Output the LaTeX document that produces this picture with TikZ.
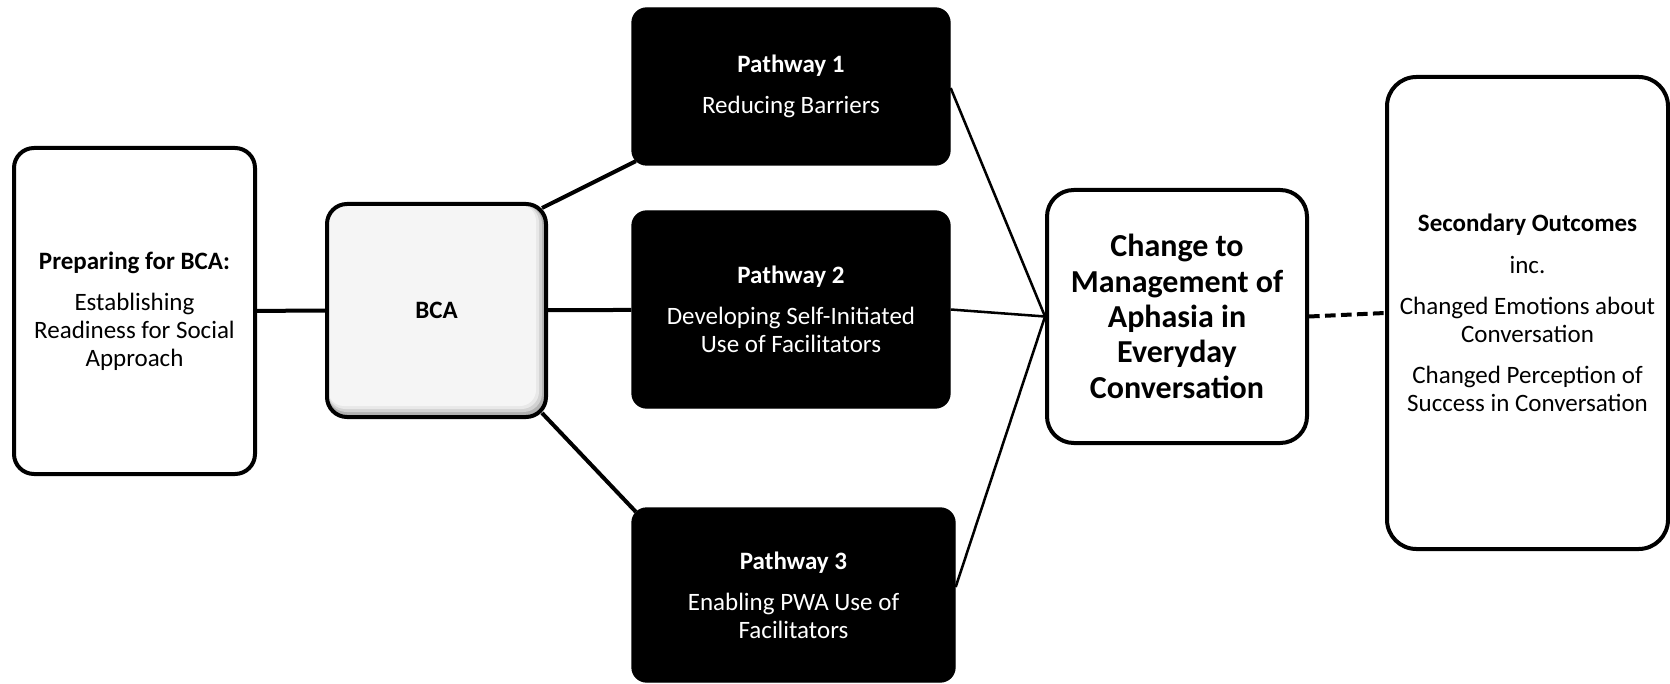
\documentclass[tikz,border=0pt]{standalone}
\usepackage{fontspec}
\setmainfont{Carlito}
\usetikzlibrary{calc}
\begin{document}
\begin{tikzpicture}[x=0.75pt,y=-0.75pt,
  txt/.style={font=\fontsize{18.75}{21}\selectfont, align=center, inner sep=0pt},
  whitebox/.style={txt, draw=black, line width=3pt, fill=white, rounded corners=15pt},
  graybox/.style={txt, draw=black, line width=3pt, rounded corners=15pt},
  pathbox/.style={txt, draw=black, line width=1pt, fill=black, text=white, rounded corners=11pt},
  heavylink/.style={line width=3pt},
  lightlink/.style={line width=1.9pt},
  dashlink/.style={line width=3pt, dash pattern=on 8pt off 4pt}]
\useasboundingbox (0,0) rectangle (1670,684);

% left box
\node[whitebox, minimum width=180.75pt, minimum height=244.5pt] (prep) at (134.5,311)
  {\textbf{Preparing for BCA:}\\[10pt]Establishing\\Readiness for Social\\Approach};

% BCA box with a soft inner shadow along its right and bottom sides
\fill[gray!60, rounded corners=15pt] (327,204) rectangle (546,417);
\fill[gray!35, rounded corners=14pt] (328,205) rectangle (542,412);
\fill[gray!18, rounded corners=13pt] (328,205) rectangle (539,409);
\fill[gray!8,  rounded corners=12pt] (328,205) rectangle (536,406);
\node[graybox, minimum width=164.25pt, minimum height=159.75pt] (bca) at (436.5,310.5)
  {\textbf{BCA}};

% the three pathways
\node[pathbox, minimum width=238.5pt, minimum height=117.75pt] (p1) at (791,86.5)
  {\textbf{Pathway 1}\\[10pt]Reducing Barriers};
\node[pathbox, minimum width=238.5pt, minimum height=147.75pt] (p2) at (791,309.5)
  {\textbf{Pathway 2}\\[10pt]Developing Self-Initiated\\Use of Facilitators};
\node[pathbox, minimum width=242.25pt, minimum height=130.5pt] (p3) at (793.5,595)
  {\textbf{Pathway 3}\\[10pt]Enabling PWA Use of\\Facilitators};

% outcome boxes
\node[whitebox, rounded corners=20pt, minimum width=195pt, minimum height=189.75pt,
  font=\fontsize{24}{26.5}\selectfont\bfseries] (change) at (1177,316.5)
  {Change to\\Management of\\Aphasia in\\Everyday\\Conversation};
\node[whitebox, rounded corners=22pt, minimum width=210.75pt, minimum height=354pt] (sec) at (1527.5,313)
  {\textbf{Secondary Outcomes}\\[10pt]inc.\\[10pt]Changed Emotions about\\Conversation\\[10pt]Changed Perception of\\Success in Conversation};

% connectors
\draw[heavylink] (prep) -- (bca);
\draw[heavylink] ($(bca.north east)+(-6,6)$) -- ($(p1.south west)+(4.5,-4.5)$);
\draw[heavylink] (bca) -- (p2);
\draw[heavylink] ($(bca.south east)+(-6,-6)$) -- ($(p3.north west)+(4.5,4.5)$);
\draw[lightlink] ($(p1.east)+(0,1.5)$) -- (change.west);
\draw[lightlink] (p2.east) -- (change.west);
\draw[lightlink] ($(p3.east)+(0,-8)$) -- (change.west);
\draw[dashlink] (change.east) -- (sec.west);
\end{tikzpicture}
\end{document}
